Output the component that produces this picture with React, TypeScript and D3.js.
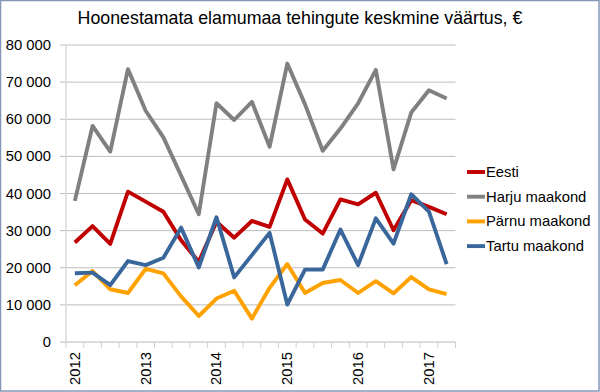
import * as d3 from "d3";

const quarters = [
  "2012 Q1", "2012 Q2", "2012 Q3", "2012 Q4",
  "2013 Q1", "2013 Q2", "2013 Q3", "2013 Q4",
  "2014 Q1", "2014 Q2", "2014 Q3", "2014 Q4",
  "2015 Q1", "2015 Q2", "2015 Q3", "2015 Q4",
  "2016 Q1", "2016 Q2", "2016 Q3", "2016 Q4",
  "2017 Q1", "2017 Q2",
];

const eesti = [26800, 31200, 26400, 40500, 37800, 35100, 27400, 21600, 32400, 28100, 32600, 31000,
  43800, 33000, 29200, 38400, 37100, 40200, 30100, 38200, 36400, 34400];
const harju = [38000, 58200, 51300, 73500, 62300, 55100, 44800, 34400, 64300, 59800, 64700, 52600,
  75000, 64000, 51500, 57500, 64300, 73300, 46500, 61800, 67800, 65600];
const parnu = [15300, 19100, 14200, 13200, 19700, 18500, 12300, 7000, 11700, 13800, 6300, 14600,
  21000, 13200, 15900, 16700, 13200, 16400, 13100, 17500, 14200, 12900];
const tartu = [18500, 18700, 15300, 21800, 20700, 22700, 30800, 20100, 33600, 17400, 23400, 29400,
  10100, 19500, 19500, 30300, 20700, 33300, 26500, 39800, 35100, 21000];

const yTicks = [0, 10000, 20000, 30000, 40000, 50000, 60000, 70000, 80000];

const series = [
  { name: "Eesti", values: eesti, color: "#C00000" },
  { name: "Harju maakond", values: harju, color: "#808080" },
  { name: "Pärnu maakond", values: parnu, color: "#FFA200" },
  { name: "Tartu maakond", values: tartu, color: "#3A679B" },
];

const W = 600;
const H = 392;
const left = 66;
const right = 455.5;
const top = 45;
const bottom = 342;
const font = "Liberation Sans, Arial, sans-serif";

export default function App() {
  const x = d3.scaleBand<string>().domain(quarters).range([left, right]);
  const y = d3.scaleLinear().domain([0, 80000]).range([bottom, top]);
  const fmt = (v: number) => d3.format(",")(v).replace(/,/g, " ");

  const line = d3
    .line<number>()
    .x((_, i) => (x(quarters[i]) ?? 0) + x.bandwidth() / 2)
    .y((d) => y(d));

  const boundaries = d3.range(quarters.length + 1).map((i) => left + i * x.step());

  return (
    <svg
      width={W}
      height={H}
      style={{ position: "absolute", left: 0, top: 0, background: "#fff" }}
      fontFamily={font}
    >
      <rect x={0.5} y={0.5} width={W - 1.5} height={H - 1.5} fill="#fff" stroke="#8496B8" strokeWidth={1.5} />
      <text x={300} y={24} textAnchor="middle" fontSize={17.8} fill="#000">
        Hoonestamata elamumaa tehingute keskmine väärtus, €
      </text>

      {yTicks.map((t) => (
        <g key={t}>
          {t > 0 && (
            <line x1={left - 6} x2={right} y1={y(t)} y2={y(t)} stroke="#BEBEBE" strokeWidth={1} />
          )}
          <text x={51} y={y(t) + 5} textAnchor="end" fontSize={14.8} fill="#000">
            {fmt(t)}
          </text>
        </g>
      ))}

      <line x1={left} x2={left} y1={top} y2={bottom} stroke="#D9D9D9" strokeWidth={1.5} />
      <line x1={left - 6} x2={right} y1={bottom} y2={bottom} stroke="#D0D0D0" strokeWidth={1.5} />
      {boundaries.map((bx, i) => (
        <line key={i} x1={bx} x2={bx} y1={bottom} y2={bottom + 6} stroke="#D0D0D0" strokeWidth={1} />
      ))}

      {quarters.map((q, i) =>
        i % 4 === 0 ? (
          <text
            key={q}
            transform={`translate(${(x(q) ?? 0) + x.bandwidth() / 2 + 5},${bottom + 10}) rotate(-90)`}
            textAnchor="end"
            fontSize={14.8}
            fill="#000"
          >
            {q.slice(0, 4)}
          </text>
        ) : null,
      )}

      {series.map((s) => (
        <path
          key={s.name}
          d={line(s.values) ?? ""}
          fill="none"
          stroke={s.color}
          strokeWidth={3.9}
          strokeLinejoin="round"
        />
      ))}

      {series.map((s, i) => (
        <g key={s.name} transform={`translate(467,${172 + i * 24.7})`}>
          <line x1={0} x2={18} y1={0} y2={0} stroke={s.color} strokeWidth={3.9} />
          <text x={19} y={5} fontSize={14.8} fill="#000">
            {s.name}
          </text>
        </g>
      ))}
    </svg>
  );
}
